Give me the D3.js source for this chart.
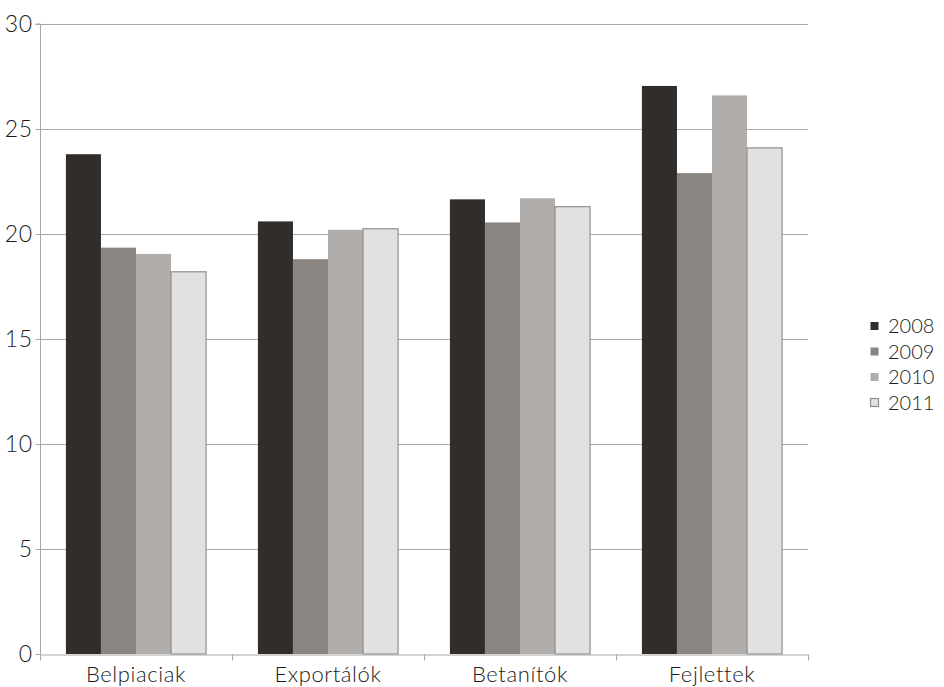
<!DOCTYPE html>
<html>
<head>
<meta charset="utf-8">
<script src="https://cdn.jsdelivr.net/npm/d3@7/dist/d3.min.js"></script>
<style>
  html, body { margin: 0; padding: 0; background: #fff; }
  svg { display: block; font-family: "Lato", "Open Sans", sans-serif; }
</style>
</head>
<body>
<svg id="chart" width="944" height="687"></svg>
<script>
// Csoportok és évek
const categories = ["Belpiaciak", "Exportálók", "Betanítók", "Fejlettek"];
const years = ["2008", "2009", "2010", "2011"];
const values2008 = [23.8, 20.6, 21.65, 27.05];
const values2009 = [19.35, 18.8, 20.55, 22.9];
const values2010 = [19.05, 20.2, 21.7, 26.6];
const values2011 = [18.2, 20.25, 21.3, 24.1];
const yTicks = [0, 5, 10, 15, 20, 25, 30];

const seriesValues = [values2008, values2009, values2010, values2011];
const colors = ["#312d2a", "#8a8581", "#b1adab", "#e1e1e1"];

const svg = d3.select("#chart");
const margin = { left: 40, right: 136, top: 24, bottom: 33 };
const width = 944, height = 687;

const x = d3.scaleBand().domain(categories)
  .range([margin.left, width - margin.right]).paddingInner(0).paddingOuter(0);
const xInner = d3.scaleBand().domain(years)
  .range([0, x.bandwidth()]).paddingOuter(0.74).paddingInner(0);
const y = d3.scaleLinear().domain([0, 30]).range([height - margin.bottom, margin.top]);

// Vízszintes rácsvonalak
svg.append("g").selectAll("line").data(yTicks.filter(t => t > 0)).join("line")
  .attr("x1", margin.left).attr("x2", width - margin.right)
  .attr("y1", d => Math.round(y(d)) + 0.5).attr("y2", d => Math.round(y(d)) + 0.5)
  .attr("stroke", "#a8a8a8").attr("stroke-width", 1);

// Oszlopok
const groups = svg.append("g").selectAll("g").data(categories).join("g")
  .attr("transform", d => `translate(${x(d)},0)`);
groups.selectAll("rect")
  .data((c, ci) => years.map((yr, si) => ({ yr, si, v: seriesValues[si][ci] })))
  .join("rect")
  .attr("x", d => xInner(d.yr))
  .attr("width", xInner.bandwidth())
  .attr("y", d => y(d.v))
  .attr("height", d => y(0) - y(d.v))
  .attr("fill", d => colors[d.si])
  .attr("stroke", d => d.si === 3 ? "#8f8f8f" : "none")
  .attr("stroke-width", 1.2);

// Y tengely
const yAxis = d3.axisLeft(y).tickValues(yTicks).tickSize(5).tickPadding(3);
const gy = svg.append("g").attr("transform", `translate(${margin.left + 0.5},0)`).call(yAxis);
gy.select(".domain").attr("stroke", "#a8a8a8").attr("d", `M-5,${y(30)}H0V${y(0)}`);
gy.selectAll(".tick line").attr("stroke", "#a8a8a8");
gy.selectAll(".tick text").attr("font-size", 23).attr("fill", "#1c1c1c")
  .attr("font-family", "Lato, sans-serif").attr("font-weight", 300)
  .attr("letter-spacing", "0.5px");

// X tengely
const xAxis = d3.axisBottom(x).tickSize(0).tickPadding(12);
const gx = svg.append("g").attr("transform", `translate(0,${Math.round(y(0)) + 0.5})`).call(xAxis);
gx.select(".domain").attr("stroke", "#a8a8a8");
gx.selectAll(".tick text").attr("font-size", 22).attr("fill", "#1c1c1c")
  .attr("font-family", "Lato, sans-serif").attr("font-weight", 300)
  .attr("letter-spacing", "0.6px");
// Kategóriahatár-jelölők
gx.append("g").selectAll("line")
  .data(categories.map(c => x(c)).concat([x.range()[1]]))
  .join("line")
  .attr("x1", d => Math.round(d) + 0.5).attr("x2", d => Math.round(d) + 0.5)
  .attr("y1", 0).attr("y2", 6)
  .attr("stroke", "#a8a8a8");

// Jelmagyarázat
const legend = svg.append("g").attr("transform", "translate(870,326)");
const item = legend.selectAll("g").data(years).join("g")
  .attr("transform", (d, i) => `translate(0,${i * 25.5})`);
item.append("rect")
  .attr("x", 0.5).attr("y", -4).attr("width", 8).attr("height", 8)
  .attr("fill", (d, i) => colors[i])
  .attr("stroke", (d, i) => i === 3 ? "#8f8f8f" : "none")
  .attr("stroke-width", 1.2);
item.append("text")
  .attr("x", 18).attr("y", 0).attr("dy", "0.35em")
  .attr("font-size", 20).attr("fill", "#1c1c1c").attr("font-weight", 300)
  .text(d => d);
</script>
</body>
</html>
